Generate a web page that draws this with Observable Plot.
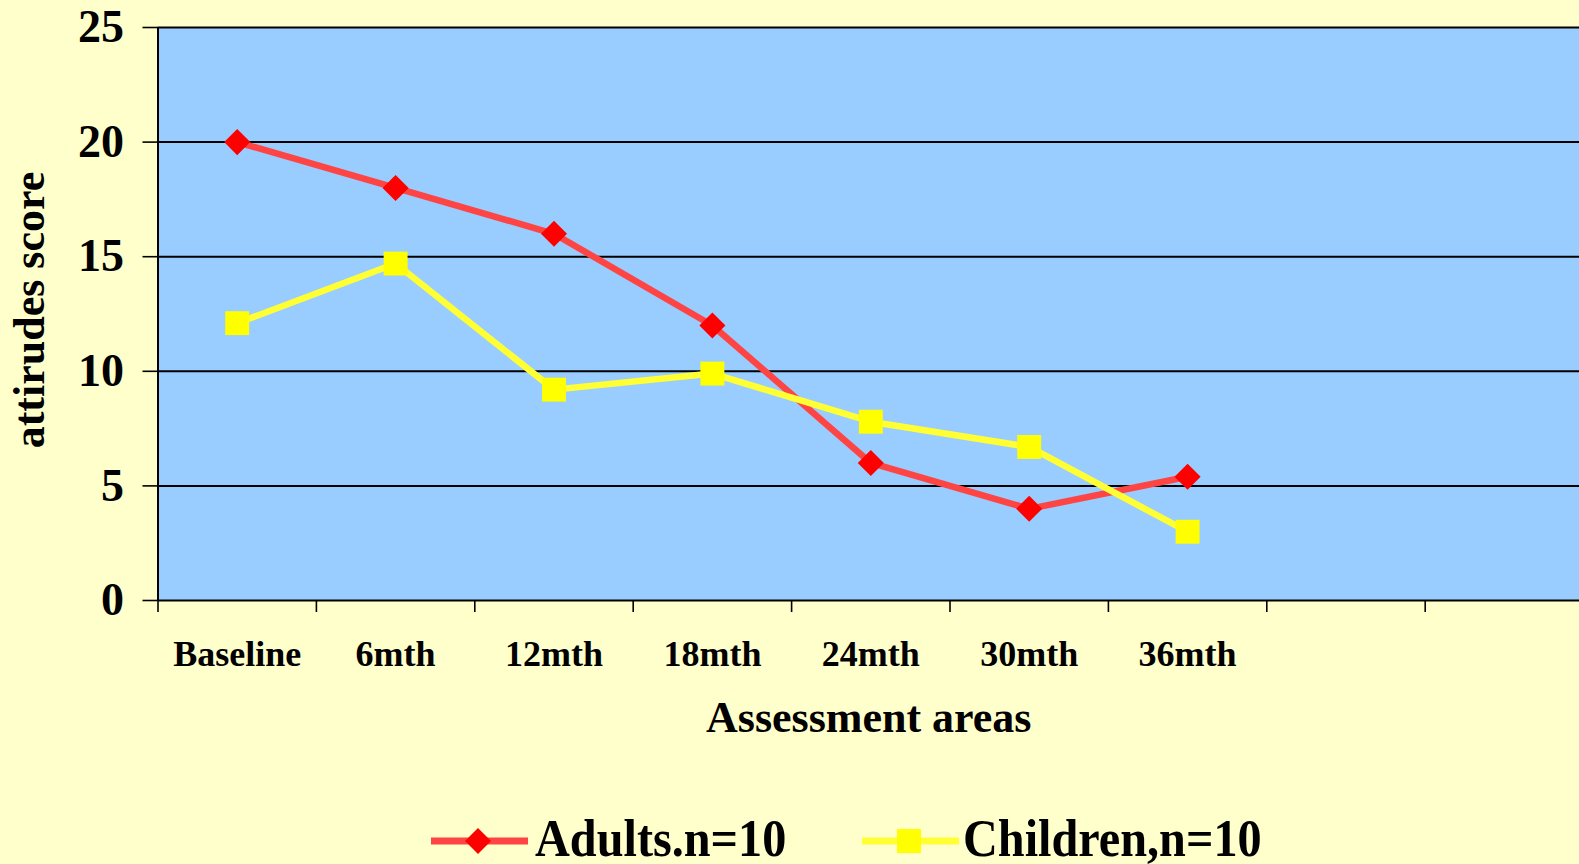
<!DOCTYPE html>
<html>
<head>
<meta charset="utf-8">
<script src="https://cdn.jsdelivr.net/npm/d3@7"></script>
<script src="https://cdn.jsdelivr.net/npm/@observablehq/plot@0.6"></script>
<style>
  html, body { margin: 0; padding: 0; overflow: hidden; background: #FFFFCC; width: 1579px; height: 864px; }
  body { position: relative; font-family: "Liberation Serif", "Times New Roman", serif; }
  #chart svg { display: block; max-width: none; }
  .leg-swatch { position: absolute; }
  .leg-text { position: absolute; font-size: 53px; font-weight: bold; line-height: 53px; color: #000; white-space: nowrap; transform: scaleX(0.91); transform-origin: left center; }
</style>
</head>
<body>
<div id="chart"></div>
<script>
// ---- data ----
const categories = ["Baseline", "6mth", "12mth", "18mth", "24mth", "30mth", "36mth"];
const adults = [20, 18, 16, 12, 6, 4, 5.4];
const children = [12.1, 14.7, 9.2, 9.9, 7.8, 6.7, 3.0];
const yTicks = [0, 5, 10, 15, 20, 25];
const slotCount = 9; // 7 categories + 2 empty slots on the category axis
const seriesNames = ["Adults.n=10", "Children,n=10"];

const rows = categories.map((c, i) => ({cat: c, i, adults: adults[i], children: children[i]}));

const W = 1579, H = 790;
const font = "'Liberation Serif', 'Times New Roman', serif";

const plot = Plot.plot({
  width: W,
  height: H,
  marginTop: 27,
  marginBottom: H - 600,
  marginLeft: 157.5,
  marginRight: 0,
  style: {background: "#FFFFCC", fontFamily: font, fontWeight: "bold", color: "black", overflow: "hidden"},
  x: {domain: [0, slotCount], range: [157.5, 157.5 + slotCount * 158.4]},
  y: {domain: [0, 25]},
  marks: [
    Plot.frame({fill: "#99CCFF", stroke: "none"}),
    Plot.gridY(yTicks.filter(d => d > 0), {stroke: "black", strokeOpacity: 1, strokeWidth: 2}),
    Plot.axisY({ticks: yTicks, tickSize: 15, tickPadding: 19, fontSize: 46, fontWeight: "bold", stroke: "black", strokeWidth: 1.6, label: null}),
    Plot.axisX({ticks: d3.range(0, slotCount + 1), tickSize: 12, tickFormat: () => "", stroke: "black", strokeWidth: 1.6, label: null}),
    Plot.ruleX([0], {stroke: "black", strokeWidth: 2}),
    Plot.ruleY([0], {stroke: "black", strokeWidth: 2}),
    // category labels, centered in their slots
    Plot.text(rows, {x: d => d.i + 0.5, text: "cat", frameAnchor: "bottom", lineAnchor: "middle", dy: 54, fontSize: 36, fontWeight: "bold", fill: "black"}),
    // axis titles
    Plot.text(["Assessment areas"], {frameAnchor: "bottom", lineAnchor: "middle", dy: 117, fontSize: 44, fontWeight: "bold", fill: "black"}),
    Plot.text(["attirudes score"], {frameAnchor: "left", textAnchor: "middle", lineAnchor: "middle", dx: -128.5, dy: -4, rotate: -90, fontSize: 44, fontWeight: "bold", fill: "black"}),
    // series
    Plot.line(rows, {x: d => d.i + 0.5, y: "adults", stroke: "#FF4444", strokeWidth: 6.5}),
    Plot.line(rows, {x: d => d.i + 0.5, y: "children", stroke: "#FFFF33", strokeWidth: 6.5}),
    Plot.dot(rows, {x: d => d.i + 0.5, y: "adults", symbol: "square", rotate: 45, r: 10.4, fill: "#FF0000", stroke: "none"}),
    Plot.dot(rows, {x: d => d.i + 0.5, y: "children", symbol: "square", r: 13.5, fill: "#FFFF00", stroke: "none"})
  ]
});
document.getElementById("chart").appendChild(plot);

// ---- legend (below the SVG) ----
const legendItems = [
  {name: seriesNames[0], line: "#FF4444", fill: "#FF0000", shape: "diamond", left: 431, textLeft: 535},
  {name: seriesNames[1], line: "#FFFF33", fill: "#FFFF00", shape: "square", left: 862, textLeft: 963}
];
const legCenterY = 841;
for (const it of legendItems) {
  const sw = d3.select("body").append("svg")
    .attr("class", "leg-swatch")
    .attr("width", 97).attr("height", 30)
    .style("left", it.left + "px").style("top", (legCenterY - 15) + "px");
  sw.append("line").attr("x1", 0).attr("x2", 97).attr("y1", 15).attr("y2", 15)
    .attr("stroke", it.line).attr("stroke-width", 7);
  if (it.shape === "diamond") {
    sw.append("path").attr("d", "M47,2 L60,15 L47,28 L34,15 Z").attr("fill", it.fill);
  } else {
    sw.append("rect").attr("x", 35).attr("y", 3).attr("width", 24).attr("height", 24).attr("fill", it.fill);
  }
  d3.select("body").append("div")
    .attr("class", "leg-text")
    .style("left", it.textLeft + "px")
    .style("top", "812px")
    .text(it.name);
}
</script>
</body>
</html>
